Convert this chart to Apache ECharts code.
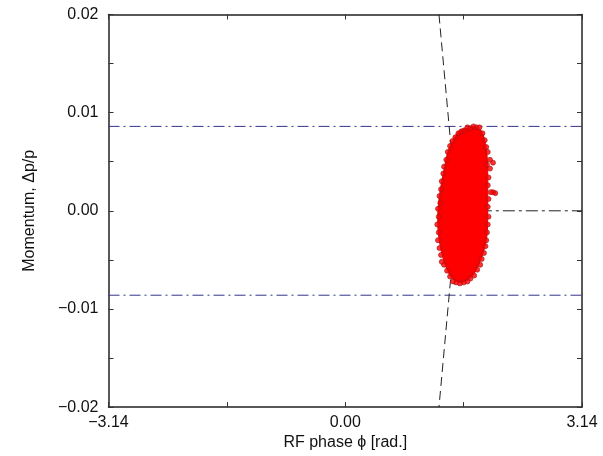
<!DOCTYPE html>
<html>
<head>
<meta charset="utf-8">
<script src="https://cdn.jsdelivr.net/npm/echarts@6/dist/echarts.min.js"></script>
<style>
  html, body { margin: 0; padding: 0; background: #fff; }
  #chart { width: 603px; height: 456px; }
</style>
</head>
<body>
<div id="chart"></div>
<script>
// axis ranges and tick steps
const phaseRange = [-3.14, 3.14];
const phaseStep = 3.14;
const momentumRange = [-0.02, 0.02];
const momentumStep = 0.01;

// bucket height (dash-dot blue lines)
const bucketTop = [[-3.14, 0.0086], [3.14, 0.0086]];
const bucketBottom = [[-3.14, -0.0086], [3.14, -0.0086]];

// black dashed separatrix lines
const separatrixV = [[1.243, 0.02], [1.48, 0], [1.243, -0.02]];
const separatrixH = [[1.48, 0], [3.14, 0]];

// outline of the dense core of the bunch
const bunchCore = [
  [1.60, 0.0084], [1.72, 0.0085], [1.80, 0.0082], [1.85, 0.0072], [1.88, 0.0057],
  [1.89, 0.0037], [1.89, 0.0011], [1.89, -0.0004], [1.88, -0.0025], [1.84, -0.0040],
  [1.77, -0.0055], [1.68, -0.0067], [1.55, -0.0073], [1.43, -0.0070], [1.34, -0.0058],
  [1.27, -0.0040], [1.23, -0.0019], [1.23, 0.0001], [1.26, 0.0021], [1.31, 0.0042],
  [1.36, 0.0060], [1.43, 0.0072], [1.51, 0.0081]
];

// particles visible at the edge of the bunch
const edgeParticles = [
  [1.58, 0.0082], [1.62, 0.0085], [1.66, 0.0084], [1.70, 0.0086], [1.74, 0.0085],
  [1.78, 0.0085], [1.82, 0.0079], [1.85, 0.0072], [1.87, 0.0065], [1.89, 0.0060],
  [1.92, 0.0052], [1.96, 0.0049], [1.88, 0.0047], [1.92, 0.0043], [1.90, 0.0034],
  [1.89, 0.0026], [1.99, 0.0018], [1.96, 0.0019], [1.93, 0.0019], [1.90, 0.0012], [1.89, 0.0004],
  [1.90, -0.0006], [1.89, -0.0014], [1.88, -0.0022], [1.87, -0.0030], [1.86, -0.0036],
  [1.84, -0.0043], [1.81, -0.0049], [1.79, -0.0055], [1.75, -0.0060], [1.71, -0.0066],
  [1.66, -0.0069], [1.62, -0.0072], [1.57, -0.0073], [1.52, -0.0074], [1.47, -0.0073],
  [1.43, -0.0072], [1.39, -0.0067], [1.35, -0.0061], [1.31, -0.0055], [1.28, -0.0052],
  [1.27, -0.0045], [1.25, -0.0038], [1.23, -0.0030], [1.24, -0.0022], [1.22, -0.0014],
  [1.24, -0.0006], [1.23, 0.0002], [1.26, 0.0008], [1.25, 0.0015], [1.27, 0.0022],
  [1.28, 0.0030], [1.30, 0.0038], [1.31, 0.0045], [1.34, 0.0052], [1.36, 0.0060],
  [1.39, 0.0066], [1.42, 0.0071], [1.46, 0.0075], [1.50, 0.0079], [1.54, 0.0081]
];

const FONT = 'Liberation Sans';

function fmt(v) {
  if (Math.abs(v) < 1e-9) return '0.00';
  return (v < 0 ? '\u2212' : '') + Math.abs(v).toFixed(2);
}

const frameLine = { show: true, onZero: false, lineStyle: { color: '#222', width: 1.5 } };
const innerTick = { show: true, inside: true, length: 5, lineStyle: { color: '#333' } };
const innerMinor = { show: true, splitNumber: 2, length: 5, lineStyle: { color: '#333' } };

const myChart = echarts.init(document.getElementById('chart'));

const option = {
  animation: false,
  backgroundColor: '#fff',
  grid: { left: 108.5, right: 21, top: 14.5, bottom: 48.5 },
  xAxis: [{
    type: 'value',
    min: phaseRange[0], max: phaseRange[1], interval: phaseStep,
    name: 'RF phase \u03D5 [rad.]',
    nameLocation: 'middle', nameGap: 26,
    nameTextStyle: { fontFamily: FONT, fontSize: 16, color: '#111' },
    axisLine: frameLine, axisTick: innerTick, minorTick: innerMinor,
    splitLine: { show: false },
    axisLabel: { fontFamily: FONT, fontSize: 16, color: '#111', margin: 7, formatter: fmt, showMinLabel: true, showMaxLabel: true }
  }, {
    type: 'value', position: 'top',
    min: phaseRange[0], max: phaseRange[1], interval: phaseStep,
    axisLine: frameLine, axisTick: innerTick, minorTick: innerMinor,
    splitLine: { show: false }, axisLabel: { show: false }
  }],
  yAxis: [{
    type: 'value',
    min: momentumRange[0], max: momentumRange[1], interval: momentumStep,
    name: 'Momentum, \u0394p/p',
    nameLocation: 'middle', nameGap: 71,
    nameTextStyle: { fontFamily: FONT, fontSize: 16, color: '#111' },
    axisLine: frameLine, axisTick: innerTick, minorTick: innerMinor,
    splitLine: { show: false },
    axisLabel: { fontFamily: FONT, fontSize: 16, color: '#111', margin: 10, formatter: fmt }
  }, {
    type: 'value', position: 'right',
    min: momentumRange[0], max: momentumRange[1], interval: momentumStep,
    axisLine: frameLine, axisTick: innerTick, minorTick: innerMinor,
    splitLine: { show: false }, axisLabel: { show: false }
  }],
  series: [{
    type: 'line', data: bucketTop, showSymbol: false, silent: true, z: 1,
    lineStyle: { color: '#34348c', width: 1, type: [11, 4, 2, 4] }
  }, {
    type: 'line', data: bucketBottom, showSymbol: false, silent: true, z: 1,
    lineStyle: { color: '#34348c', width: 1, type: [11, 4, 2, 4] }
  }, {
    type: 'line', data: separatrixV, showSymbol: false, silent: true, z: 1,
    lineStyle: { color: '#222', width: 1, type: [9, 5] }
  }, {
    type: 'line', data: separatrixH, showSymbol: false, silent: true, z: 1,
    lineStyle: { color: '#222', width: 1, type: [12, 4, 3, 4] }
  }, {
    type: 'custom', data: [bunchCore[0]], silent: true, z: 10,
    renderItem: function (params, api) {
      return {
        type: 'polygon',
        z2: 10,
        shape: { points: bunchCore.map(p => api.coord(p)), smooth: 0.3 },
        style: { fill: '#ff0000', stroke: '#e00000', lineWidth: 1 }
      };
    }
  }, {
    type: 'scatter', data: edgeParticles, symbolSize: 5, silent: true, z: 11,
    itemStyle: { color: '#ff0000', borderColor: '#a01818', borderWidth: 0.8 }
  }]
};

myChart.setOption(option);
</script>
</body>
</html>
